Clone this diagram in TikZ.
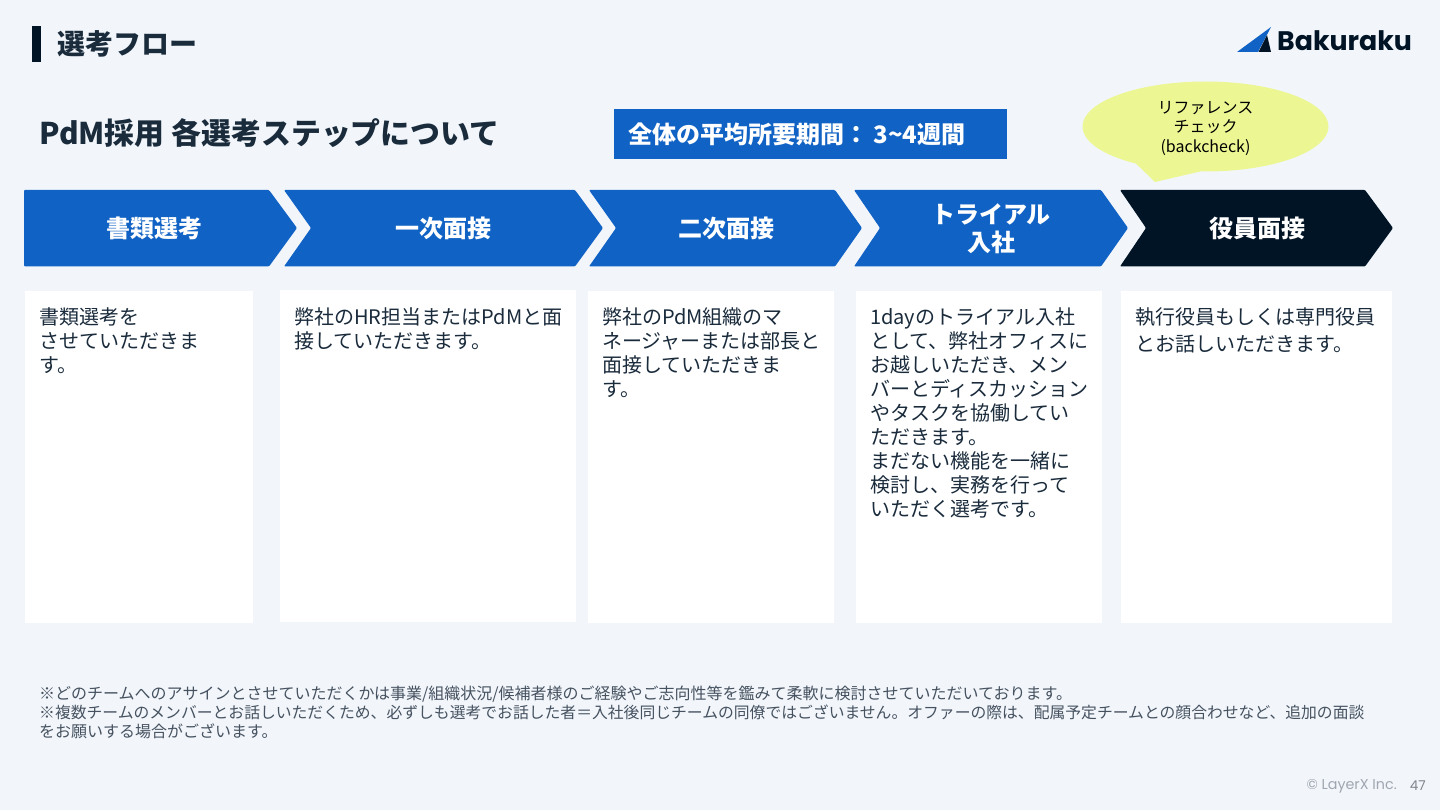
\documentclass[tikz,border=0pt]{standalone}
\usepackage{fontspec}
\setmainfont{Noto Sans CJK JP}
\newfontfamily\logofont{Poppins}
\usetikzlibrary{shapes.callouts}
\definecolor{bgcolor}{RGB}{242,246,251}
\definecolor{stepcolor}{RGB}{16,98,196}
\definecolor{lastcolor}{RGB}{0,20,38}
\definecolor{inkcolor}{RGB}{26,43,60}
\definecolor{notecolor}{RGB}{70,82,96}
\definecolor{footcolor}{RGB}{160,166,176}
\definecolor{bubblecolor}{RGB}{236,247,148}
\tikzset{
  steplabel/.style={white,font=\fontsize{24}{28}\selectfont\bfseries,align=center,inner sep=0pt},
  cardtext/.style={inkcolor,anchor=north west,align=left,inner sep=0pt,font=\fontsize{20}{24.05}\selectfont},
}
\begin{document}
\begin{tikzpicture}[x=1pt,y=-1pt]
  \fill[bgcolor] (0,0) rectangle (1440,810);
  \useasboundingbox (0,0) rectangle (1440,810);
  % header
  \fill[lastcolor] (32,26) rectangle (41,62);
  \node[anchor=west,inkcolor,inner sep=0pt,font=\fontsize{28}{32}\selectfont\bfseries] (title) at (57,44) {選考フロー};
  \node[anchor=west,inkcolor,inner sep=0pt,font=\fontsize{29.9}{36}\selectfont\bfseries] (subtitle) at (39,133) {PdM採用 各選考ステップについて};
  \fill[stepcolor] (614,109) rectangle (1007,159);
  \node[anchor=west,white,inner sep=0pt,font=\fontsize{24}{28}\selectfont\bfseries] (avg) at (628,134) {全体の平均所要期間： 3\textasciitilde4週間};
  % logo
  \fill[stepcolor] (1237,52) -- (1271,27) -- (1258,52) -- cycle;
  \fill[lastcolor] (1258.5,52) -- (1267,35) -- (1271,52) -- cycle;
  \node[anchor=west,lastcolor,inner sep=0pt,font=\fontsize{26.8}{30}\logofont\bfseries] (logo) at (1277,41) {Bakuraku};
  % chevrons
  \foreach \a/\b/\c/\d/\col in {
    24/24/269/297/stepcolor,
    284/311/575/603/stepcolor,
    589/616/835/862/stepcolor,
    854/880/1101/1128/stepcolor,
    1120/1146/1365/1393/lastcolor} {
    \fill[\col,rounded corners=1pt] (\a,190) -- (\c,190) -- (\d,228) -- (\c,266.5) -- (\a,266.5) -- (\b,228) -- cycle;
  }
  \node[steplabel] (step1) at (154,228) {書類選考};
  \node[steplabel] (step2) at (443,228) {一次面接};
  \node[steplabel] (step3) at (726,228) {二次面接};
  \node[steplabel] (step4) at (991,229) {トライアル\\入社};
  \node[steplabel] (step5) at (1257,228) {役員面接};
  % callout
  \node[ellipse callout,fill=bubblecolor,minimum width=246,minimum height=90,inner sep=0pt,
    callout absolute pointer={(1155,182)},callout pointer arc=32] (bubble) at (1205.5,126.5) {};
  \node[align=center,inner sep=0pt,font=\fontsize{16}{19.5}\selectfont] (bubbletext) at (1205.5,128) {リファレンス\\チェック\\(backcheck)};
  % cards
  \fill[white] (25,291) rectangle (253,623);
  \fill[white] (280,290) rectangle (576,622);
  \fill[white] (588,291) rectangle (834,623);
  \fill[white] (856,291) rectangle (1102,623);
  \fill[white] (1121,291) rectangle (1392,623);
  \node[cardtext] (text1) at (39,307) {書類選考を\\させていただきま\\す。};
  \node[cardtext] (text2) at (294,307) {弊社のHR担当またはPdMと面\\接していただきます。};
  \node[cardtext] (text3) at (602,307) {弊社のPdM組織のマ\\ネージャーまたは部長と\\面接していただきま\\す。};
  \node[cardtext] (text4) at (870,307) {1dayのトライアル入社\\として、弊社オフィスに\\お越しいただき、メン\\バーとディスカッション\\やタスクを協働してい\\ただきます。\\まだない機能を一緒に\\検討し、実務を行って\\いただく選考です。};
  \node[cardtext,font=\fontsize{20}{27}\selectfont] (text5) at (1135,307) {執行役員もしくは専門役員\\とお話しいただきます。};
  % notes
  \node[anchor=north west,notecolor,align=left,inner sep=0pt,font=\fontsize{16}{19}\selectfont] (note) at (39,686) {※どのチームへのアサインとさせていただくかは事業/組織状況/候補者様のご経験やご志向性等を鑑みて柔軟に検討させていただいております。\\{\fontsize{15.81}{19}\selectfont ※複数チームのメンバーとお話しいただくため、必ずしも選考でお話した者＝入社後同じチームの同僚ではございません。オファーの際は、配属予定チームとの顔合わせなど、追加の面談}\\をお願いする場合がございます。};
  % footer
  \node[anchor=east,footcolor,inner sep=0pt,font=\fontsize{14.3}{16}\logofont] (copy) at (1397,786) {© LayerX Inc.};
  \node[anchor=east,footcolor!80!black,inner sep=0pt,font=\fontsize{13.5}{16}\logofont] (page) at (1426,786) {47};
\end{tikzpicture}
\end{document}
